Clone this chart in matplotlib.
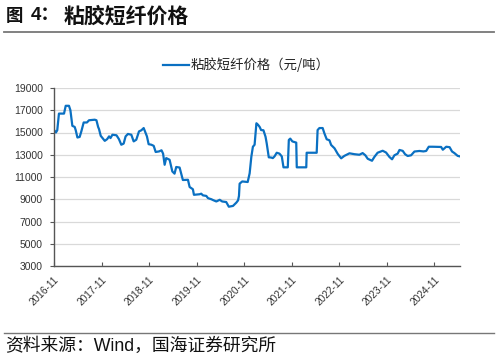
import matplotlib
matplotlib.use("Agg")
import matplotlib.pyplot as plt
import pandas as pd
from matplotlib.lines import Line2D

plt.rcParams['font.family'] = ['Noto Sans CJK SC', 'DejaVu Sans']

dates = [
    "2016-11-03", "2016-11-16", "2016-11-26", "2016-12-09", "2017-01-17", "2017-01-30",
    "2017-02-24", "2017-03-07", "2017-03-22", "2017-04-09", "2017-04-17", "2017-04-30",
    "2017-05-17", "2017-05-30", "2017-06-17", "2017-07-12", "2017-07-28", "2017-09-10",
    "2017-09-23", "2017-10-06", "2017-10-13", "2017-10-26", "2017-11-26", "2017-12-14",
    "2017-12-29", "2018-01-09", "2018-01-24", "2018-02-24", "2018-03-15", "2018-04-02",
    "2018-04-20", "2018-05-05", "2018-05-23", "2018-06-18", "2018-07-06", "2018-07-26",
    "2018-08-16", "2018-09-03", "2018-09-21", "2018-10-04", "2018-10-16", "2018-10-29",
    "2018-11-19", "2018-12-07", "2018-12-22", "2019-01-17", "2019-02-05", "2019-02-17",
    "2019-03-01", "2019-03-13", "2019-04-08", "2019-04-29", "2019-05-16", "2019-05-29",
    "2019-06-24", "2019-07-06", "2019-07-19", "2019-08-27", "2019-09-09", "2019-10-04",
    "2019-10-12", "2019-11-25", "2019-12-07", "2019-12-20", "2020-01-15", "2020-01-28",
    "2020-02-23", "2020-03-06", "2020-04-01", "2020-04-27", "2020-05-16", "2020-06-16",
    "2020-07-06", "2020-08-07", "2020-09-02", "2020-09-15", "2020-09-22", "2020-09-27",
    "2020-10-17", "2020-11-28", "2020-12-13", "2020-12-26", "2021-01-07", "2021-01-20",
    "2021-02-03", "2021-02-15", "2021-02-28", "2021-03-11", "2021-03-29", "2021-04-14",
    "2021-04-23", "2021-05-09", "2021-05-27", "2021-06-09", "2021-06-22", "2021-07-09",
    "2021-07-30", "2021-08-17", "2021-08-30", "2021-10-02", "2021-10-10", "2021-10-21",
    "2021-11-06", "2021-12-06", "2021-12-10", "2022-02-21", "2022-02-24", "2022-05-12",
    "2022-05-19", "2022-06-02", "2022-06-27", "2022-07-10", "2022-07-28", "2022-08-18",
    "2022-08-31", "2022-09-26", "2022-10-21", "2022-11-16", "2022-12-11", "2023-01-19",
    "2023-02-26", "2023-04-05", "2023-04-30", "2023-05-21", "2023-06-08", "2023-07-11",
    "2023-07-29", "2023-08-23", "2023-10-01", "2023-10-27", "2023-11-22", "2023-12-12",
    "2023-12-30", "2024-01-24", "2024-02-07", "2024-03-03", "2024-03-21", "2024-04-10",
    "2024-05-06", "2024-06-01", "2024-07-09", "2024-08-09", "2024-08-30", "2024-09-19",
    "2024-10-19", "2024-12-23", "2025-01-05", "2025-01-31", "2025-02-26", "2025-03-17",
    "2025-04-04", "2025-04-29", "2025-05-17",
]
prices = [
    15200, 15000, 15200, 16700, 16700, 17400,
    17400, 17000, 15600, 15500, 15200, 14550,
    14600, 15100, 15900, 15900, 16100, 16150,
    16100, 15500, 15300, 14700, 14250, 14400,
    14650, 14500, 14800, 14750, 14400, 13900,
    14000, 14650, 14870, 14800, 14200, 14350,
    15100, 15200, 15400, 15000, 14650, 13950,
    13900, 13800, 13250, 13300, 13400, 13100,
    12100, 12700, 12550, 11500, 11300, 11900,
    11850, 11300, 10730, 10750, 10100, 9900,
    9400, 9450, 9500, 9350, 9300, 9100,
    9000, 8930, 8800, 8950, 8800, 8750,
    8330, 8400, 8700, 8900, 9300, 10400,
    10600, 10550, 11330, 12820, 13720, 13900,
    15830, 15700, 15500, 15220, 15200, 14620,
    14030, 12770, 12750, 12700, 12850, 13180,
    13100, 12850, 11870, 11870, 14330, 14450,
    14200, 14090, 11870, 11870, 13180, 13180,
    15220, 15400, 15400, 14930, 14390, 14300,
    13880, 13580, 13070, 12680, 12900, 13130,
    13050, 13000, 13150, 12950, 12640, 12460,
    12800, 13180, 13360, 13200, 12800, 12590,
    12950, 13100, 13430, 13350, 13050, 12890,
    12950, 13290, 13340, 13300, 13340, 13720,
    13720, 13700, 13450, 13720, 13680, 13290,
    13150, 12900, 12850,
]
series_label = "粘胶短纤价格（元/吨）"
y_ticks = [3000, 5000, 7000, 9000, 11000, 13000, 15000, 17000, 19000]
x_ticks = ["2016-11", "2017-11", "2018-11", "2019-11", "2020-11",
           "2021-11", "2022-11", "2023-11", "2024-11"]

d = pd.to_datetime(dates)
fig = plt.figure(figsize=(4.98, 3.6), dpi=100)
ax = fig.add_axes([54/498, 1-266/360, (460-54)/498, (266-88)/360])

ax.plot(d, prices, color="#0A70C2", lw=1.6, solid_joinstyle="round")
ax.set_ylim(3000, 19000)
ax.set_yticks(y_ticks)
ax.set_xlim(pd.Timestamp("2016-11-01"), d[-1])
xt = pd.to_datetime(x_ticks)
ax.set_xticks(xt)
ax.set_xticklabels(x_ticks, rotation=45, ha="right", rotation_mode="anchor")
ax.grid(axis="y", color="#D9D9D9", lw=0.9)
ax.set_axisbelow(True)
for s in ["top", "right"]:
    ax.spines[s].set_visible(False)
for s in ["left", "bottom"]:
    ax.spines[s].set_color("#555555")
    ax.spines[s].set_linewidth(1.0)
ax.tick_params(axis="y", length=3, width=0.8, color="#555555", labelsize=7.5,
               labelcolor="#333333", pad=5)
ax.tick_params(axis="x", direction="in", length=3, width=0.8, color="#555555",
               labelsize=7.3, labelcolor="#333333", pad=6)
for lab in ax.get_xticklabels() + ax.get_yticklabels():
    lab.set_family(['Liberation Sans', 'DejaVu Sans'])

# legend
fig.add_artist(Line2D([163/498, 189/498], [1-65/360, 1-65/360], color="#0A70C2", lw=1.6))
fig.text(191/498, 1-65/360, series_label, fontsize=9.6, va="center", ha="left", color="#222222")

# title and footer
fig.text(6/498, 1-16/360, "图", fontsize=12.5, fontweight="bold",
         va="center", ha="left", color="#111111")
fig.text(31/498, 1-16/360, "4：", fontsize=13.5, fontweight="bold",
         va="center", ha="left", color="#111111",
         family=['Liberation Sans', 'Noto Sans CJK SC'])
fig.text(64/498, 1-16/360, "粘胶短纤价格", fontsize=15, fontweight="bold",
         va="center", ha="left", color="#111111")
fig.add_artist(Line2D([4/498, 494/498], [1-31.5/360, 1-31.5/360], color="#777777", lw=1.3))
fig.add_artist(Line2D([4/498, 494/498], [1-333/360, 1-333/360], color="#777777", lw=1.0))
fig.text(5/498, 1-346/360, "资料来源：Wind，国海证券研究所", fontsize=12.8, va="center",
         ha="left", color="#111111", family=['Liberation Sans', 'Noto Sans CJK SC'])

fig.savefig("out.png", dpi=100)
